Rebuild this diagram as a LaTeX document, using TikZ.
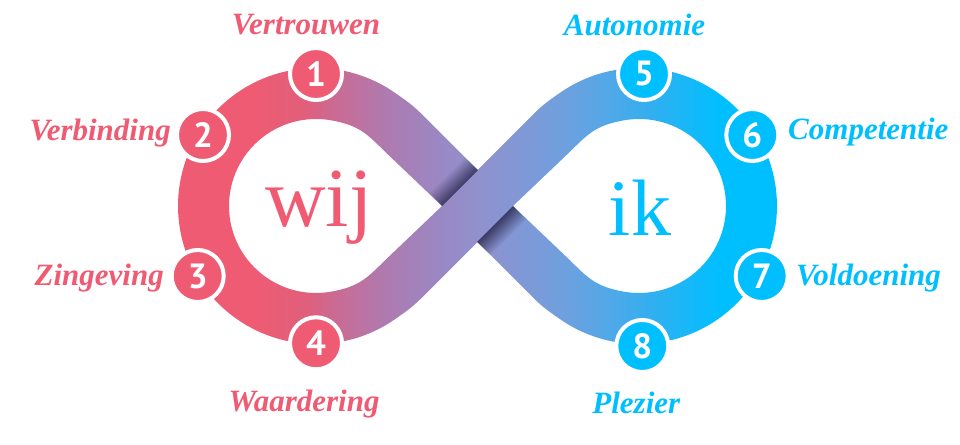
\documentclass[tikz,border=0pt]{standalone}
\usepackage{xcolor}
\usepackage{fontspec}
\setmainfont{Liberation Serif}
\newfontfamily\numfont{PT Sans}
\usetikzlibrary{positioning,fadings}

\definecolor{wijkleur}{HTML}{EF5B73}
\definecolor{ikkleur}{HTML}{00BFFF}
\definecolor{kruisschaduw}{HTML}{26264A}
\definecolor{lusa}{RGB}{225,95,122}
\definecolor{lusb}{RGB}{205,105,145}
\definecolor{lusc}{RGB}{175,122,175}
\definecolor{lusd}{RGB}{155,135,195}
\definecolor{luse}{RGB}{145,145,205}
\definecolor{lusf}{RGB}{128,152,214}
\definecolor{lusg}{RGB}{110,160,222}
\definecolor{lush}{RGB}{82,168,232}
\definecolor{lusi}{RGB}{50,175,240}

\pgfdeclarehorizontalshading{lusverloop}{100bp}{
	color(0bp)=(wijkleur);
	color(32.3bp)=(wijkleur);
	color(36.4bp)=(lusa);
	color(38.5bp)=(lusb);
	color(42.7bp)=(lusc);
	color(46.9bp)=(lusd);
	color(50bp)=(luse);
	color(53.5bp)=(lusf);
	color(56.9bp)=(lusg);
	color(60.2bp)=(lush);
	color(63.6bp)=(lusi);
	color(69bp)=(ikkleur);
	color(100bp)=(ikkleur)}
\tikzfading[name=kruisfade, left color=transparent!20, right color=transparent!100]

\tikzset{
	badge/.style={circle, draw=white, line width=4pt, minimum size=52pt, inner sep=0pt, text=white, font=\numfont\bfseries\fontsize{35}{35}\selectfont},
	wijbadge/.style={badge, fill=wijkleur},
	ikbadge/.style={badge, fill=ikkleur},
	term/.style={inner sep=0pt, text height=20pt, text depth=7pt, font=\bfseries\itshape\fontsize{31}{31}\selectfont},
	wijterm/.style={term, text=wijkleur},
	ikterm/.style={term, text=ikkleur},
	kern/.style={anchor=base, inner sep=0pt}
}

\begin{document}
\begin{tikzpicture}[x=1pt,y=1pt]
	\useasboundingbox (0,0) rectangle (960,444);

	% de lus
	\shade[shading=lusverloop]
		(477.5,274) -- (420,331.5) .. controls (412,339.5) and (404.2,344.7) .. (395.2,351)
		arc[start angle=55, end angle=305, radius=138pt]
		.. controls (404.2,131.3) and (412,136.5) .. (420,144.5) -- (477.5,202) -- (535,144.5)
		.. controls (543,136.5) and (550.8,131.3) .. (559.8,125)
		arc[start angle=-125, end angle=125, radius=138pt]
		.. controls (550.8,344.7) and (543,339.5) .. (535,331.5) -- cycle
		(442,238) -- (386.7,185.3) .. controls (367,166) and (360,157.7) .. (332,152.5)
		arc[start angle=280.6, end angle=79.4, radius=87pt]
		.. controls (360,318.3) and (367,310) .. (386.7,290.7) -- cycle
		(513,238) -- (568.3,290.7) .. controls (588,310) and (595,318.3) .. (623,323.5)
		arc[start angle=100.6, end angle=-100.6, radius=87pt]
		.. controls (595,157.7) and (588,166) .. (568.3,185.3) -- cycle;

	% schaduw onder de kruising
	\fill[kruisschaduw, path fading=kruisfade, transform canvas={shift={(460pt,256pt)},rotate=135}] (0,-25.4) rectangle (19,25.4);
	\fill[kruisschaduw, path fading=kruisfade, transform canvas={shift={(495pt,220pt)},rotate=-45}] (0,-25.4) rectangle (19,25.4);

	\node[kern, text=wijkleur, font=\fontsize{84}{84}\selectfont] (wij) at (319,217) {wij};
	\node[kern, text=ikkleur, font=\fontsize{80}{80}\selectfont] (ik) at (640,208) {ik};

	\node[wijbadge] (een) at (316,370) {1};
	\node[wijbadge] (twee) at (203,309) {2};
	\node[wijbadge] (drie) at (197.7,168) {3};
	\node[wijbadge] (vier) at (316,100.7) {4};
	\node[ikbadge] (vijf) at (644,370) {5};
	\node[ikbadge] (zes) at (752.3,309) {6};
	\node[ikbadge] (zeven) at (761.7,168) {7};
	\node[ikbadge] (acht) at (642.3,98) {8};

	\node[wijterm, above=4.5pt of een, xshift=-10pt] (vertrouwen) {Vertrouwen};
	\node[wijterm, left=4pt of twee, yshift=1pt] (verbinding) {Verbinding};
	\node[wijterm, left=5.7pt of drie, yshift=-3.5pt] (zingeving) {Zingeving};
	\node[wijterm, below=19.7pt of vier, xshift=-12pt] (waardering) {Waardering};
	\node[ikterm, above=3.5pt of vijf, xshift=-9.5pt] (autonomie) {Autonomie};
	\node[ikterm, right=7.7pt of zes, yshift=2pt] (competentie) {Competentie};
	\node[ikterm, right=6.3pt of zeven, yshift=-3pt] (voldoening) {Voldoening};
	\node[ikterm, below=19pt of acht, xshift=-6pt] (plezier) {Plezier};
\end{tikzpicture}
\end{document}
